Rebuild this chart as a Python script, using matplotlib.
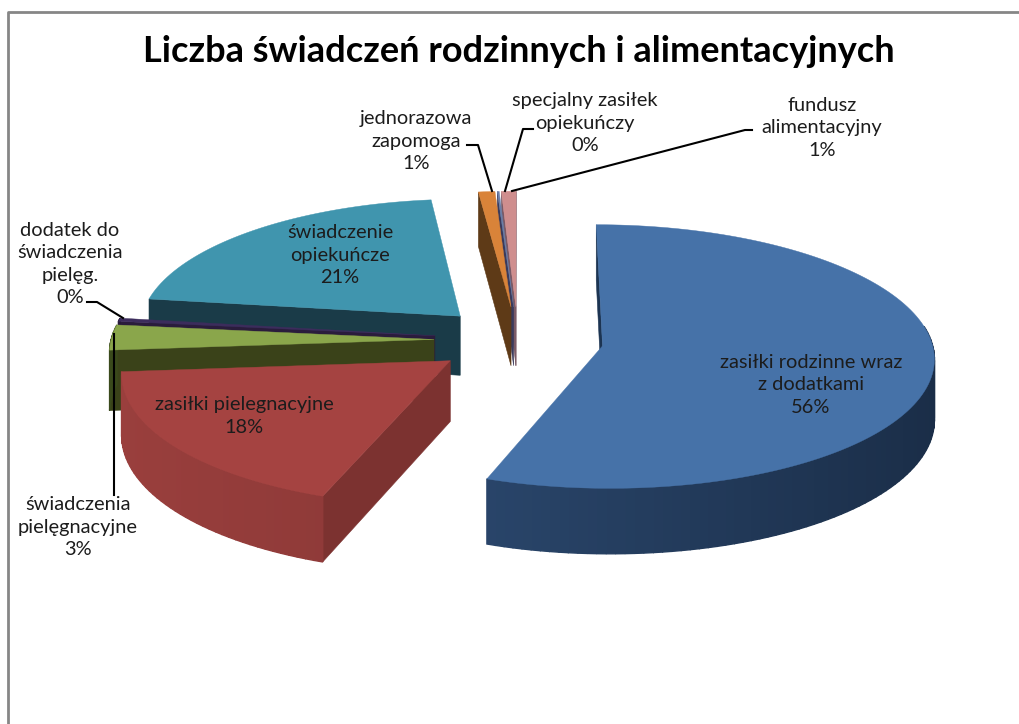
import numpy as np
import matplotlib
matplotlib.use("Agg")
import matplotlib.pyplot as plt
from matplotlib.colors import to_rgb
from matplotlib.patches import Polygon

plt.rcParams['font.family'] = ['Lato', 'DejaVu Sans']

# --- data ---
names = ["zasiłki rodzinne wraz\nz dodatkami", "zasiłki pielegnacyjne", "świadczenia\npielęgnacyjne",
         "dodatek do\nświadczenia\npielęg.", "świadczenie\nopiekuńcze", "jednorazowa\nzapomoga",
         "specjalny zasiłek\nopiekuńczy", "fundusz\nalimentacyjny"]
values = [55.6, 18.1, 3.1, 0.4, 21, 0.9, 0.1, 0.8]

# --- styles ---
top_colors = ["#4672a8", "#a54341", "#8aa64b", "#3c2c5c", "#4095ae", "#d98339", "#6b7fa8", "#cf8e8e"]
side_left = ["#30507a", "#9a3f3d", "#3a4a1c", "#261a38", "#1a3d4a", "#5e3a17", "#3a3a5c", "#7a5a66"]
side_right = ["#1a2d47", "#7b3130", "#3a4a1c", "#261a38", "#1a3d4a", "#5e3a17", "#3a3a5c", "#7a5a66"]
face_colors = ["#1c3452", "#7c3230", "#3a4219", "#2a1c3c", "#1a3b48", "#5e3a17", "#3a3a5c", "#7a5a66"]
label_pos = [(811, 385), (244, 416), (78, 527), (70, 264), (340, 255), (416, 141), (585, 123), (822, 128)]
leaders = [None, None,
           [(114, 495), (114, 334)],
           [(87, 302), (97, 302), (123, 318)],
           None,
           [(467, 145), (478, 145), (492, 191)],
           [(533, 129), (523, 129), (505, 191)],
           [(752, 130), (745, 130), (512, 191)]]

# projection of the tilted pie
CX, CY = 518, 340
RX_RIGHT, RX_LEFT, RY = 329, 323, 130
DEPTH = 60
EXPLODE = 0.26
PERSP = 0.08


def project(x, y, z=0.0):
    s = 1 / (1 + PERSP * y)
    rx = RX_RIGHT if x > 0 else RX_LEFT
    return CX + rx * x * s, CY - RY * y * s + z * DEPTH * s


def mix(c1, c2, t):
    a, b = np.array(to_rgb(c1)), np.array(to_rgb(c2))
    return tuple(a + (b - a) * t)


fig = plt.figure(figsize=(10.19, 7.24), dpi=100)
ax = fig.add_axes([0, 0, 1, 1])
ax.set_xlim(0, 1019)
ax.set_ylim(724, 0)
ax.axis('off')

# chart frame
ax.plot([8, 8, 1019], [724, 11.5, 11.5], color="#868686", lw=2, solid_capstyle='butt')

ax.text(519, 51, "Liczba świadczeń rodzinnych i alimentacyjnych", fontsize=26, fontweight='bold',
        ha='center', va='center', color="black")

total = sum(values)
edges = np.concatenate([[0], np.cumsum(values)]) / total * 2 * np.pi
mids = (edges[:-1] + edges[1:]) / 2

# back slices first
order = np.argsort(-np.cos(mids))
z = 2
for i in order:
    t0, t1 = edges[i], edges[i + 1]
    ox, oy = EXPLODE * np.sin(mids[i]), EXPLODE * np.cos(mids[i])
    n = max(4, int((t1 - t0) / np.radians(1.5)))
    th = np.linspace(t0, t1, n + 1)
    rim_x, rim_y = ox + np.sin(th), oy + np.cos(th)

    # flat cut faces, only when they face the viewer
    for t, sign in ((t0, 1), (t1, -1)):
        rx, ry = ox + np.sin(t), oy + np.cos(t)
        quad = [project(rx, ry), project(ox, oy), project(ox, oy, 1), project(rx, ry, 1)]
        q = np.array(quad)
        area = np.sum(q[:, 0] * np.roll(q[:, 1], -1) - np.roll(q[:, 0], -1) * q[:, 1])
        if area * sign > 0:
            ax.add_patch(Polygon(quad, closed=True, fc=face_colors[i], ec=face_colors[i], lw=0.4, zorder=z))
    z += 1

    # outer wall with a horizontal gradient
    for k in range(n):
        if np.cos((th[k] + th[k + 1]) / 2) > 0.15:
            continue
        quad = [project(rim_x[k], rim_y[k]), project(rim_x[k + 1], rim_y[k + 1]),
                project(rim_x[k + 1], rim_y[k + 1], 1), project(rim_x[k], rim_y[k], 1)]
        c = mix(side_left[i], side_right[i], (np.sin((th[k] + th[k + 1]) / 2) + 1) / 2)
        ax.add_patch(Polygon(quad, closed=True, fc=c, ec=c, lw=1.0, zorder=z))
    z += 1

    # top face
    top = [project(ox, oy)] + [project(a, b) for a, b in zip(rim_x, rim_y)]
    ax.add_patch(Polygon(top, closed=True, fc=top_colors[i], ec=top_colors[i], lw=0.3, zorder=z))
    z += 1

for name, v, pos, line in zip(names, values, label_pos, leaders):
    ax.text(pos[0], pos[1], f"{name}\n{round(v / total * 100)}%", fontsize=14.4, ha='center', va='center',
            color="#1c1c1c", linespacing=1.4, zorder=z + 2)
    if line:
        xs, ys = zip(*line)
        ax.plot(xs, ys, color="black", lw=1.5, zorder=z + 1)

fig.savefig("out.png", dpi=100)
